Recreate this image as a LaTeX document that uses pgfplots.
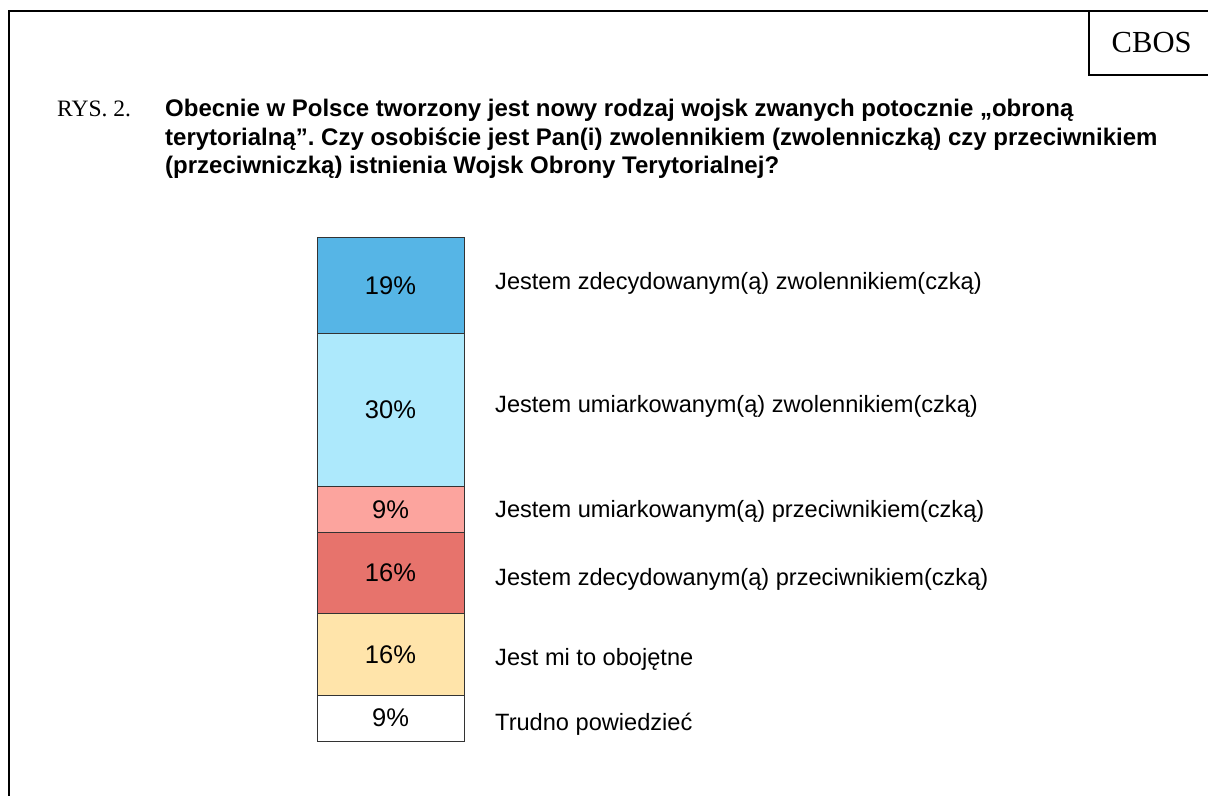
\documentclass[border=0pt]{standalone}
\usepackage{pgfplots}
\pgfplotsset{compat=1.18}
\usepackage{fontspec}
\setmainfont{Liberation Sans}
\newfontfamily\timesf{Liberation Serif}
\frenchspacing
\definecolor{c1}{HTML}{56B5E6}
\definecolor{c2}{HTML}{ADE9FC}
\definecolor{c3}{HTML}{FCA49E}
\definecolor{c4}{HTML}{E7736C}
\definecolor{c5}{HTML}{FFE4AA}
\definecolor{c6}{HTML}{FFFFFF}
\tikzset{pct/.style={font=\fontsize{25.5bp}{30bp}\selectfont},
  lab/.style={font=\fontsize{23.6bp}{28bp}\selectfont, anchor=west, inner sep=0pt, xshift=31bp}}
\begin{document}
\begin{tikzpicture}[x=1bp,y=1bp]
\useasboundingbox (0,0) rectangle (1208,796);
\draw[line width=2bp] (9,0) -- (9,785) -- (1208,785);
\draw[line width=1.6bp] (1089,785) -- (1089,721) -- (1208,721);
\node[anchor=base, font=\timesf\fontsize{30.6bp}{34bp}\selectfont, inner sep=0pt] at (1151.7,743.3) {CBOS};
\node[anchor=base west, font=\timesf\fontsize{23.5bp}{28bp}\selectfont, inner sep=0pt] at (57,679) {RYS. 2.};
\node[anchor=base west, font=\bfseries\fontsize{24bp}{28bp}\selectfont, inner sep=0pt] at (165,679) {Obecnie w Polsce tworzony jest nowy rodzaj wojsk zwanych potocznie „obroną};
\node[anchor=base west, font=\bfseries\fontsize{24bp}{28bp}\selectfont, inner sep=0pt] at (165,650.5) {terytorialną”. Czy osobiście jest Pan(i) zwolennikiem (zwolenniczką) czy przeciwnikiem};
\node[anchor=base west, font=\bfseries\fontsize{24bp}{28bp}\selectfont, inner sep=0pt] at (165,622.5) {(przeciwniczką) istnienia Wojsk Obrony Terytorialnej?};
\begin{axis}[at={(317bp,55bp)}, anchor=south west, width=147bp, height=504bp,
  scale only axis, hide axis, ymin=0, ymax=99, xmin=-0.5, xmax=0.5,
  ybar stacked, bar width=147bp, clip=false,
  after end axis/.code={
    \node[pct] at (axis cs:0,4.5) {9\%};
    \node[pct] at (axis cs:0,17) {16\%};
    \node[pct] at (axis cs:0,33) {16\%};
    \node[pct] at (axis cs:0,45.5) {9\%};
    \node[pct] at (axis cs:0,65) {30\%};
    \node[pct] at (axis cs:0,89.5) {19\%};
    \node[lab] at (axis cs:0.5,89.8) {Jestem zdecydowanym(ą) zwolennikiem(czką)};
    \node[lab] at (axis cs:0.5,65.8) {Jestem umiarkowanym(ą) zwolennikiem(czką)};
    \node[lab] at (axis cs:0.5,45.1) {Jestem umiarkowanym(ą) przeciwnikiem(czką)};
    \node[lab] at (axis cs:0.5,31.7) {Jestem zdecydowanym(ą) przeciwnikiem(czką)};
    \node[lab] at (axis cs:0.5,16.0) {Jest mi to obojętne};
    \node[lab] at (axis cs:0.5,3.2) {Trudno powiedzieć};
  }]
\addplot[fill=c6, draw=black!80, line width=0.8bp] coordinates {(0,9)};
\addplot[fill=c5, draw=black!80, line width=0.8bp] coordinates {(0,16)};
\addplot[fill=c4, draw=black!80, line width=0.8bp] coordinates {(0,16)};
\addplot[fill=c3, draw=black!80, line width=0.8bp] coordinates {(0,9)};
\addplot[fill=c2, draw=black!80, line width=0.8bp] coordinates {(0,30)};
\addplot[fill=c1, draw=black!80, line width=0.8bp] coordinates {(0,19)};
\end{axis}
\end{tikzpicture}
\end{document}
